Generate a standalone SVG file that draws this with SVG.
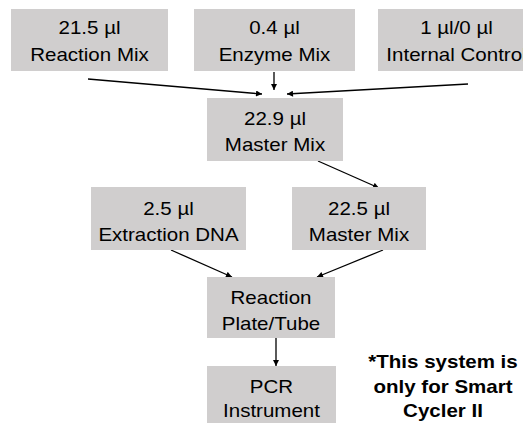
<svg xmlns="http://www.w3.org/2000/svg" width="523" height="423" viewBox="0 0 523 423">
  <defs>
    <marker id="arrow" viewBox="0 0 10 10" refX="10" refY="5" markerWidth="7" markerHeight="6" markerUnits="userSpaceOnUse" orient="auto">
      <path d="M0,0 L10,5 L0,10 Z" fill="#000"/>
    </marker>
  </defs>
  <style>
    .box { fill: #d0cece; }
    .lbl { font-family: "Liberation Sans", Arial, sans-serif; font-size: 18px; fill: #000; text-anchor: middle; }
    .note { font-family: "Liberation Sans", Arial, sans-serif; font-size: 18px; font-weight: bold; fill: #000; text-anchor: middle; }
    .edge { stroke: #000; stroke-width: 1.3; fill: none; marker-end: url(#arrow); }
  </style>
  <rect width="523" height="423" fill="#fff"/>

  <g id="connectors">
    <line class="edge" x1="88" y1="79" x2="262" y2="94"/>
    <line class="edge" x1="274" y1="72" x2="274" y2="90"/>
    <line class="edge" x1="468" y1="84" x2="287" y2="94"/>
    <line class="edge" x1="318" y1="161" x2="379" y2="188"/>
    <line class="edge" x1="171" y1="250" x2="232" y2="277"/>
    <line class="edge" x1="383" y1="250" x2="317" y2="277"/>
    <line class="edge" x1="276" y1="338" x2="276" y2="366"/>
  </g>

  <g id="reaction-mix">
    <rect class="box" x="11" y="9" width="157" height="62"/>
    <g transform="translate(89.5,0) scale(1.14,1)">
      <text class="lbl" x="0" y="34">21.5 µl</text>
      <text class="lbl" x="0" y="61">Reaction Mix</text>
    </g>
  </g>

  <g id="enzyme-mix">
    <rect class="box" x="194" y="9" width="161" height="62"/>
    <g transform="translate(274.5,0) scale(1.14,1)">
      <text class="lbl" x="0" y="34">0.4 µl</text>
      <text class="lbl" x="0" y="61">Enzyme Mix</text>
    </g>
  </g>

  <g id="internal-control">
    <rect class="box" x="378" y="9" width="157" height="62"/>
    <g transform="translate(456.5,0) scale(1.14,1)">
      <text class="lbl" x="0" y="34">1 µl/0 µl</text>
      <text class="lbl" x="0" y="61">Internal Control</text>
    </g>
  </g>

  <g id="master-mix-total">
    <rect class="box" x="207" y="98" width="136" height="63"/>
    <g transform="translate(275,0) scale(1.14,1)">
      <text class="lbl" x="0" y="125">22.9 µl</text>
      <text class="lbl" x="0" y="151">Master Mix</text>
    </g>
  </g>

  <g id="extraction-dna">
    <rect class="box" x="91" y="187" width="155" height="63"/>
    <g transform="translate(168.5,0) scale(1.14,1)">
      <text class="lbl" x="0" y="215">2.5 µl</text>
      <text class="lbl" x="0" y="241">Extraction DNA</text>
    </g>
  </g>

  <g id="master-mix-portion">
    <rect class="box" x="292" y="187" width="134" height="63"/>
    <g transform="translate(359,0) scale(1.14,1)">
      <text class="lbl" x="0" y="215">22.5 µl</text>
      <text class="lbl" x="0" y="241">Master Mix</text>
    </g>
  </g>

  <g id="reaction-plate">
    <rect class="box" x="207" y="277" width="128" height="61"/>
    <g transform="translate(271,0) scale(1.14,1)">
      <text class="lbl" x="0" y="304">Reaction</text>
      <text class="lbl" x="0" y="330">Plate/Tube</text>
    </g>
  </g>

  <g id="pcr-instrument">
    <rect class="box" x="207" y="366" width="129" height="57"/>
    <g transform="translate(271.5,0) scale(1.14,1)">
      <text class="lbl" x="0" y="393">PCR</text>
      <text class="lbl" x="0" y="417">Instrument</text>
    </g>
  </g>

  <g id="note">
    <g transform="translate(443,0) scale(1.14,1)">
      <text class="note" x="0" y="368">*This system is</text>
      <text class="note" x="0" y="393">only for Smart</text>
      <text class="note" x="0" y="417">Cycler II</text>
    </g>
  </g>
</svg>
